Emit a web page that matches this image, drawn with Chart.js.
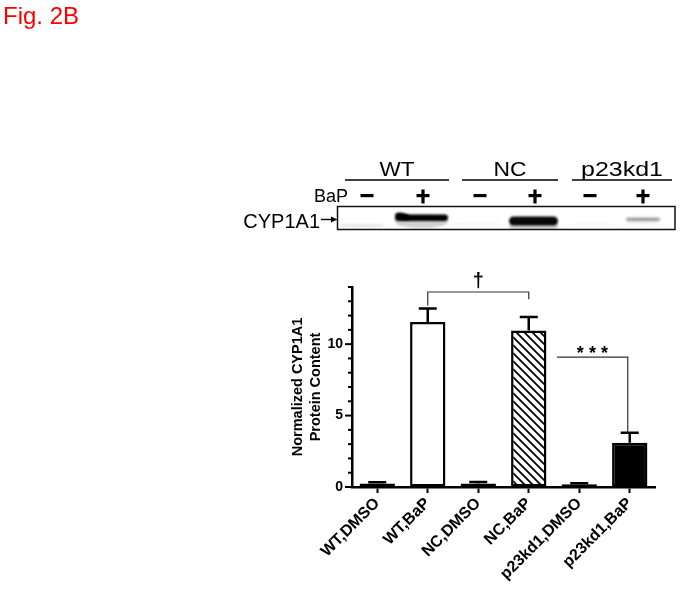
<!DOCTYPE html>
<html>
<head>
<meta charset="utf-8">
<title>Fig. 2B</title>
<script src="https://cdn.jsdelivr.net/npm/chart.js@4.4.0/dist/chart.umd.min.js"></script>
<style>
  html, body { margin: 0; padding: 0; background: #fff; }
  #wrap { position: relative; width: 682px; height: 589px; }
</style>
</head>
<body>
<div id="wrap"><canvas id="fig" width="682" height="589"></canvas></div>
<script>
// ---------------------------------------- | Data

const categories = ["WT,DMSO", "WT,BaP", "NC,DMSO", "NC,BaP", "p23kd1,DMSO", "p23kd1,BaP"]
const proteinMeans = [0.25, 11.55, 0.25, 10.95, 0.2, 3.1]
const proteinErrors = [0.08, 0.95, 0.1, 0.95, 0.06, 0.7]
const yTickValues = [0, 5, 10]

const blotGroups = ["WT", "NC", "p23kd1"]
const bapSigns = ["-", "+", "-", "+", "-", "+"]
const bandStrength = [0.1, 1, 0.03, 0.97, 0.04, 0.35]

const FONT = "Arial, 'Liberation Sans', sans-serif"

// ---------------------------------------- | Western blot panel (drawn on the same canvas)

const groupSpans = [[345, 449], [462, 558], [572, 672]]
const groupTextWidth = [35, 33, 82]
const laneX = [367, 423, 480, 535, 590, 643]
const bandSpans = [[340, 384], [395, 448], [455, 500], [509, 558], [575, 610], [626, 660]]
const bandY = [225.5, 217.8, 224, 221, 224, 219.3]
const bandH = [2.5, 6.5, 2, 9, 2, 3.5]

function drawBlot(ctx) {
  ctx.save()

  ctx.fillStyle = "#f00"
  ctx.font = `24px ${FONT}`
  ctx.textAlign = "left"
  ctx.textBaseline = "alphabetic"
  ctx.fillText("Fig. 2B", 3, 24)

  ctx.fillStyle = "#000"
  ctx.strokeStyle = "#000"
  ctx.font = `21px ${FONT}`
  ctx.textAlign = "center"
  ctx.lineWidth = 1.3
  blotGroups.forEach((g, i) => {
    const [a, b] = groupSpans[i]
    const k = groupTextWidth[i] / ctx.measureText(g).width
    ctx.save()
    ctx.translate((a + b) / 2, 176)
    ctx.scale(k, 1)
    ctx.fillText(g, 0, 0)
    ctx.restore()
    ctx.beginPath()
    ctx.moveTo(a, 180)
    ctx.lineTo(b, 180)
    ctx.stroke()
  })

  ctx.font = `18px ${FONT}`
  ctx.textAlign = "right"
  ctx.fillText("BaP", 348, 201.5)

  bapSigns.forEach((s, i) => {
    const x = laneX[i]
    ctx.fillRect(x - 6.5, 194, 13, 3.2)
    if (s === "+") ctx.fillRect(x - 1.6, 189.5, 3.2, 14)
  })

  ctx.font = `20px ${FONT}`
  ctx.fillText("CYP1A1", 320, 227.5)
  ctx.lineWidth = 1.4
  ctx.beginPath()
  ctx.moveTo(321, 219.5)
  ctx.lineTo(333, 219.5)
  ctx.stroke()
  ctx.beginPath()
  ctx.moveTo(337.5, 219.5)
  ctx.lineTo(331, 216.5)
  ctx.lineTo(331, 222.5)
  ctx.closePath()
  ctx.fill()

  // bands
  ctx.save()
  ctx.beginPath()
  ctx.rect(338, 207, 337, 22)
  ctx.clip()
  ctx.filter = "blur(1.3px)"
  bandStrength.forEach((s, i) => {
    const [a, b] = bandSpans[i]
    const y = bandY[i]
    const h = bandH[i]
    // faint haze under the band
    ctx.fillStyle = `rgba(0,0,0,${s * 0.18})`
    ctx.beginPath()
    ctx.ellipse((a + b) / 2, y + h * 0.6, (b - a) / 2, h, 0, 0, Math.PI * 2)
    ctx.fill()
    ctx.fillStyle = `rgba(0,0,0,${s})`
    ctx.beginPath()
    ctx.roundRect(a, y - h / 2, b - a, h, h / 2)
    ctx.fill()
    if (i === 1) {
      ctx.beginPath()
      ctx.ellipse(a + 8, y - 1.5, 8, 3.2, 0.25, 0, Math.PI * 2)
      ctx.fill()
    }
  })
  ctx.restore()

  ctx.strokeStyle = "#111"
  ctx.lineWidth = 1.5
  ctx.strokeRect(337.5, 206.5, 337.5, 23)

  ctx.restore()
}

// ---------------------------------------- | Hatch fill for NC bars

function makeHatch() {
  const c = document.createElement("canvas")
  c.width = 8
  c.height = 8
  const g = c.getContext("2d")
  g.fillStyle = "#fff"
  g.fillRect(0, 0, 8, 8)
  g.strokeStyle = "#000"
  g.lineWidth = 1.8
  g.beginPath()
  g.moveTo(-2, -2); g.lineTo(10, 10)
  g.moveTo(-10, -2); g.lineTo(2, 10)
  g.moveTo(6, -2); g.lineTo(18, 10)
  g.stroke()
  return g.createPattern(c, "repeat")
}

// ---------------------------------------- | Plugin: blot, error bars, ticks, significance

const figurePlugin = {
  id: "figure",
  beforeDraw(chart) {
    drawBlot(chart.ctx)
  },
  afterDatasetsDraw(chart) {
    const ctx = chart.ctx
    const xs = chart.scales.x
    const ys = chart.scales.y
    const bars = chart.getDatasetMeta(0).data
    ctx.save()
    ctx.strokeStyle = "#000"

    // error bars (upper only)
    ctx.lineWidth = 2.5
    bars.forEach((bar, i) => {
      const top = ys.getPixelForValue(proteinMeans[i] + proteinErrors[i])
      ctx.beginPath()
      ctx.moveTo(bar.x, bar.y)
      ctx.lineTo(bar.x, top)
      ctx.moveTo(bar.x - 9, top)
      ctx.lineTo(bar.x + 9, top)
      ctx.stroke()
    })

    // y ticks: major every 5, minor every 1
    const left = chart.chartArea.left
    ctx.lineWidth = 2
    for (let v = 0; v <= 14; v++) {
      const y = ys.getPixelForValue(v)
      const len = v % 5 === 0 ? 7 : 4
      ctx.beginPath()
      ctx.moveTo(left - len, y)
      ctx.lineTo(left, y)
      ctx.stroke()
    }

    // dagger bracket: WT,BaP vs NC,BaP
    ctx.strokeStyle = "#333"
    ctx.lineWidth = 1.2
    const by = ys.getPixelForValue(13.65)
    ctx.beginPath()
    ctx.moveTo(bars[1].x, ys.getPixelForValue(12.7))
    ctx.lineTo(bars[1].x, by)
    ctx.lineTo(bars[3].x, by)
    ctx.lineTo(bars[3].x, ys.getPixelForValue(13.15))
    ctx.stroke()
    ctx.fillStyle = "#000"
    ctx.font = `bold 20px ${FONT}`
    ctx.textAlign = "center"
    ctx.textBaseline = "alphabetic"
    ctx.fillText("\u2020", (bars[1].x + bars[3].x) / 2, by - 5)

    // *** line: NC,BaP vs p23kd1,BaP
    const sy = ys.getPixelForValue(9.09)
    const x6 = bars[5].x - 2
    ctx.beginPath()
    ctx.moveTo(xs.getPixelForValue(3.56), sy)
    ctx.lineTo(x6, sy)
    ctx.lineTo(x6, ys.getPixelForValue(proteinMeans[5] + proteinErrors[5]))
    ctx.stroke()
    ctx.font = `bold 18px ${FONT}`
    ctx.fillText("* * *", xs.getPixelForValue(4.26), sy + 2)

    ctx.restore()
  }
}

// ---------------------------------------- | Chart

const hatch = makeHatch()
const figCtx = document.getElementById("fig").getContext("2d")

const proteinChart = new Chart(figCtx, {
  type: "bar",
  data: {
    labels: categories,
    datasets: [
      {
        data: proteinMeans,
        backgroundColor: ["#fff", "#fff", hatch, hatch, "#000", "#000"],
        borderColor: "#000",
        borderWidth: 2.5,
        borderSkipped: false,
        barPercentage: 0.7,
        categoryPercentage: 1
      }
    ]
  },
  options: {
    responsive: false,
    animation: false,
    layout: { padding: { left: 289, top: 287, right: 27, bottom: 0 } },
    plugins: {
      legend: { display: false },
      tooltip: { enabled: false }
    },
    scales: {
      x: {
        grid: { offset: false, drawOnChartArea: false, tickLength: 6, tickWidth: 2, tickColor: "#000" },
        border: { color: "#000", width: 2.5 },
        ticks: {
          color: "#000",
          font: { family: FONT, size: 16, weight: "bold" },
          minRotation: 45,
          maxRotation: 45,
          autoSkip: false,
          padding: 1
        },
        afterFit: scale => { scale.height = 102 }
      },
      y: {
        min: 0,
        max: 14,
        afterBuildTicks: scale => { scale.ticks = yTickValues.map(value => ({ value })) },
        grid: { drawOnChartArea: false, tickLength: 7, tickColor: "rgba(0,0,0,0)" },
        border: { color: "#000", width: 2.5 },
        ticks: {
          color: "#000",
          font: { family: FONT, size: 14, weight: "bold" },
          padding: 2
        },
        title: {
          display: true,
          text: ["Normalized CYP1A1", "Protein Content"],
          color: "#000",
          font: { family: FONT, size: 14.5, weight: "bold", lineHeight: 1.25 },
          padding: 0
        },
        afterFit: scale => { scale.width = 63 }
      }
    }
  },
  plugins: [figurePlugin]
})
</script>
</body>
</html>
